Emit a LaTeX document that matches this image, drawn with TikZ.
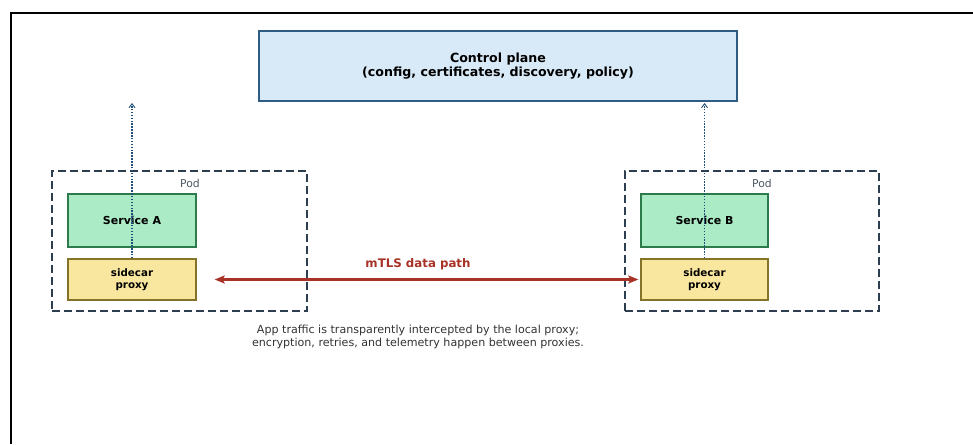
\documentclass[tikz,border=0pt]{standalone}
\usepackage{fontspec}
\setmainfont{DejaVu Sans}
\usetikzlibrary{arrows.meta}

\definecolor{cpfill}{HTML}{D8EAF7}
\definecolor{cpline}{HTML}{2E5C86}
\definecolor{svcfill}{HTML}{ABEBC6}
\definecolor{svcline}{HTML}{2D7A4A}
\definecolor{sdfill}{HTML}{F9E79F}
\definecolor{sdline}{HTML}{86732A}
\definecolor{podline}{HTML}{2C3E50}
\definecolor{podtext}{HTML}{4D5863}
\definecolor{mtls}{HTML}{A93226}
\definecolor{ctl}{HTML}{1F4E79}
\definecolor{note}{HTML}{333333}

\tikzset{
  box/.style={draw, line width=1.3pt, inner sep=0pt, align=center, font=\bfseries},
  cpbox/.style={box, fill=cpfill, draw=cpline, minimum width=478pt, minimum height=70pt,
    font=\bfseries\fontsize{12.6}{14}\selectfont},
  svcbox/.style={box, fill=svcfill, draw=svcline, minimum width=128pt, minimum height=53pt,
    font=\bfseries\fontsize{11}{13}\selectfont},
  sdbox/.style={box, fill=sdfill, draw=sdline, minimum width=128pt, minimum height=41pt,
    font=\bfseries\fontsize{10.3}{12}\selectfont},
  podbox/.style={draw=podline, line width=1.6pt, dash pattern=on 8pt off 4pt,
    minimum width=255pt, minimum height=140pt, inner sep=0pt},
  podlabel/.style={text=podtext, font=\fontsize{10.8}{12}\selectfont, inner sep=0pt},
  ctlarrow/.style={draw=ctl, line width=1.1pt, dash pattern=on 1.5pt off 1.4pt,
    -{Straight Barb[length=4pt,width=6pt,line width=0.9pt]}},
  dataarrow/.style={draw=mtls, line width=2.2pt,
    {Stealth[length=10pt,width=8pt,inset=2pt]}-{Stealth[length=10pt,width=8pt,inset=2pt]}},
}

\begin{document}
\begin{tikzpicture}[x=1pt, y=-1pt]
  \useasboundingbox (0,0) rectangle (973,444);
  \fill[white] (0,0) rectangle (973,444);
  % outer frame (runs off the right and bottom edges)
  \draw[black, line width=2pt] (11,444) -- (11,13) -- (973,13);

  % control plane
  \node[cpbox] (cp) at (498,66) {Control plane\\(config, certificates, discovery, policy)};

  % pods
  \node[podbox] (podA) at (179.5,241) {};
  \node[podbox, minimum width=254pt] (podB) at (752,241) {};
  \node[podlabel] (podAlbl) at (190,183) {Pod};
  \node[podlabel] (podBlbl) at (762,183) {Pod};

  % services and their sidecars
  \node[svcbox] (svcA) at (132,220.5) {Service A};
  \node[sdbox] (sdA) at (132,279.5) {sidecar\\proxy};
  \node[svcbox, minimum width=127pt] (svcB) at (704.5,220.5) {Service B};
  \node[sdbox, minimum width=127pt] (sdB) at (704.5,279.5) {sidecar\\proxy};

  % control-plane links from each sidecar
  \coordinate (ctlA) at (132,103);
  \coordinate (ctlB) at (704.5,103);
  \draw[ctlarrow] (sdA.north) -- (ctlA);
  \draw[ctlarrow] (sdB.north) -- (ctlB);

  % data path between proxies
  \draw[dataarrow, shorten <=18pt, shorten >=2pt] (sdA.east) -- (sdB.west);
  \node[text=mtls, font=\bfseries\fontsize{11.8}{13}\selectfont, inner sep=0pt] (mtlsLbl) at (418,264) {mTLS data path};

  % explanatory note
  \node[text=note, align=center, font=\fontsize{11.1}{12.4}\selectfont, inner sep=0pt] (noteLbl) at (418,337)
    {App traffic is transparently intercepted by the local proxy;\\encryption, retries, and telemetry happen between proxies.};
\end{tikzpicture}
\end{document}
